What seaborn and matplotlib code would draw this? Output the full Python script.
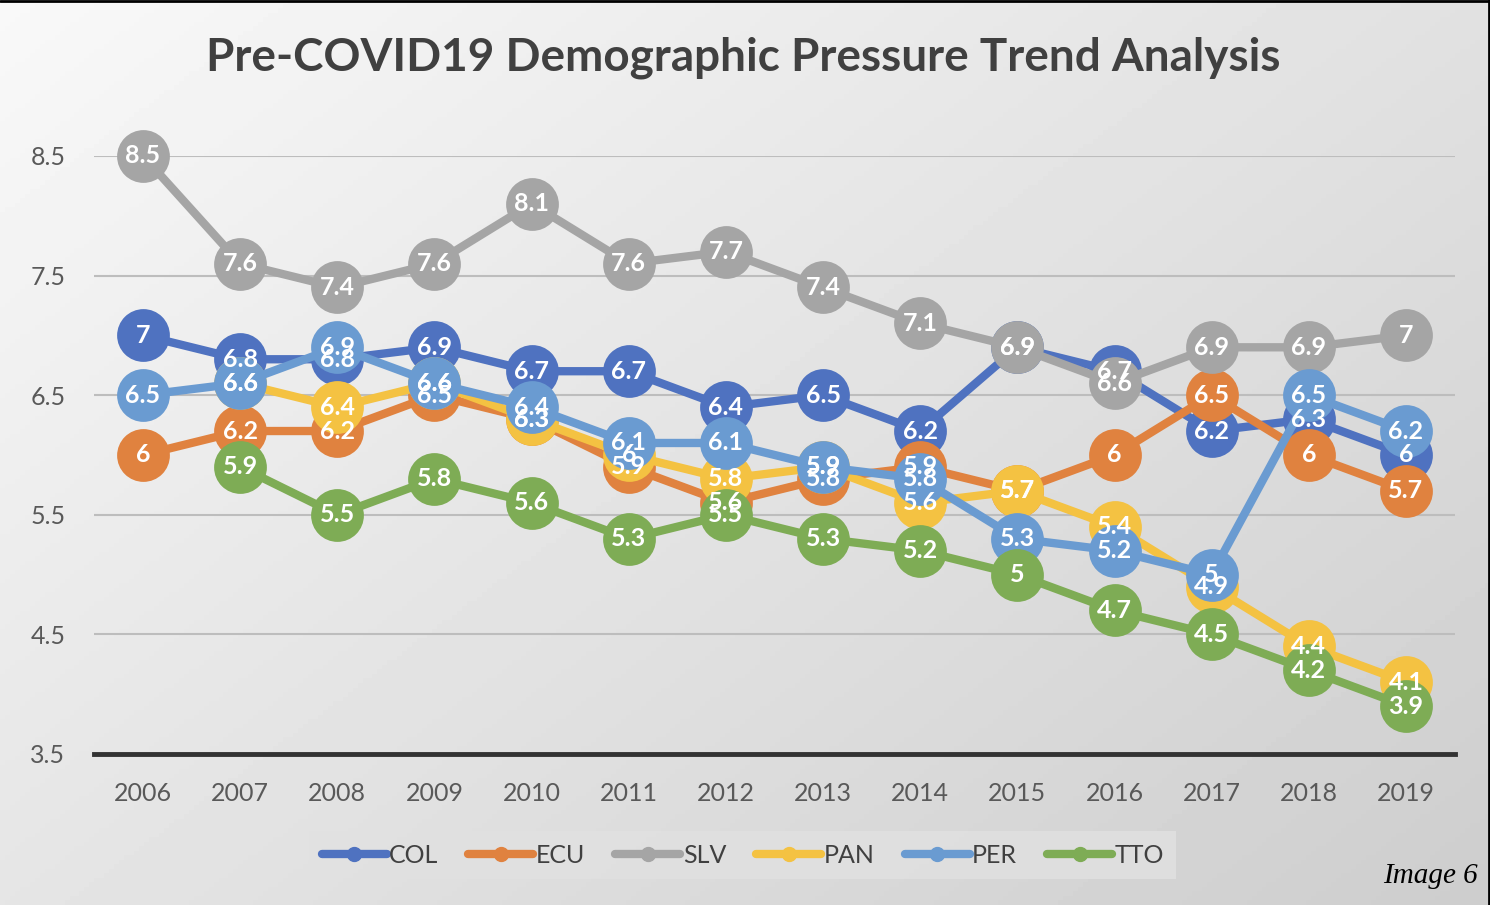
import numpy as np
import pandas as pd
import matplotlib
matplotlib.use('Agg')
import matplotlib.pyplot as plt
import seaborn as sns
from matplotlib.lines import Line2D

years = list(range(2006, 2020))
COL = [7.0, 6.8, 6.8, 6.9, 6.7, 6.7, 6.4, 6.5, 6.2, 6.9, 6.7, 6.2, 6.3, 6.0]
ECU = [6.0, 6.2, 6.2, 6.5, 6.3, 5.9, 5.6, 5.8, 5.9, 5.7, 6.0, 6.5, 6.0, 5.7]
SLV = [8.5, 7.6, 7.4, 7.6, 8.1, 7.6, 7.7, 7.4, 7.1, 6.9, 6.6, 6.9, 6.9, 7.0]
PAN = [np.nan, 6.6, 6.4, 6.6, 6.3, 6.0, 5.8, 5.9, 5.6, 5.7, 5.4, 4.9, 4.4, 4.1]
PER = [6.5, 6.6, 6.9, 6.6, 6.4, 6.1, 6.1, 5.9, 5.8, 5.3, 5.2, 5.0, 6.5, 6.2]
TTO = [np.nan, 5.9, 5.5, 5.8, 5.6, 5.3, 5.5, 5.3, 5.2, 5.0, 4.7, 4.5, 4.2, 3.9]

series_names = ['COL', 'ECU', 'SLV', 'PAN', 'PER', 'TTO']
series_values = [COL, ECU, SLV, PAN, PER, TTO]
colors = ['#4F72C0', '#E0823F', '#A5A5A5', '#F4C242', '#6A9BD1', '#7EAC55']
yticks = [3.5, 4.5, 5.5, 6.5, 7.5, 8.5]
title = 'Pre-COVID19 Demographic Pressure Trend Analysis'

rows = []
for n, vals in zip(series_names, series_values):
    for y, v in zip(years, vals):
        rows.append({'year': y, 'value': v, 'country': n})
df = pd.DataFrame(rows).dropna()

sns.set_theme(style='white')
plt.rcParams['font.family'] = ['Lato', 'DejaVu Sans']

fig = plt.figure(figsize=(14.9, 9.05), dpi=100)

# background gradient
bg = fig.add_axes([0, 0, 1, 1], zorder=-10)
gx, gy = np.meshgrid(np.linspace(0, 1, 300), np.linspace(0, 1, 200))
t = 0.55 * gx + 0.45 * gy
grad = 0.975 - 0.17 * t
bg.imshow(grad, cmap='gray', vmin=0, vmax=1, aspect='auto', extent=[0, 1, 0, 1], origin='upper')
bg.set_axis_off()

ax = fig.add_axes([0.0634, 0.1669, 0.9128, 0.6608])
ax.patch.set_alpha(0)

sns.lineplot(data=df, x='year', y='value', hue='country', hue_order=series_names,
             palette=colors, marker='o', markersize=38, linewidth=6,
             markeredgewidth=0, legend=False, ax=ax, clip_on=False, sort=True)

for n, vals in zip(series_names, series_values):
    for y, v in zip(years, vals):
        if np.isnan(v):
            continue
        ax.text(y, v, f"{v:g}", ha='center', va='center', color='white',
                fontsize=18, fontweight='bold', zorder=20, clip_on=False)

ax.set_xlim(2005.5, 2019.5)
ax.set_ylim(3.5, 8.5)
ax.set_xticks(years)
ax.set_xticklabels([str(y) for y in years])
ax.set_yticks(yticks)
ax.set_yticklabels([f"{v:g}" for v in yticks])
ax.set_xlabel('')
ax.set_ylabel('')
ax.tick_params(axis='both', length=0, labelsize=18, colors='#595959')
ax.tick_params(axis='y', pad=21)
ax.tick_params(axis='x', pad=20)
ax.set_axisbelow(True)
ax.yaxis.grid(True, color='#bdbdbd', linewidth=1.5)
ax.get_ygridlines()[0].set_visible(False)
for s in ['top', 'right', 'left']:
    ax.spines[s].set_visible(False)
ax.spines['bottom'].set_color('#333333')
ax.spines['bottom'].set_linewidth(3.5)
ax.spines['bottom'].set_zorder(3)

fig.text(0.499, 0.936, title, ha='center', va='center', fontsize=33,
         fontweight='bold', color='#404040')

handles = [Line2D([0], [0], color=c, lw=6, marker='o', markersize=10) for c in colors]
leg = fig.legend(handles, series_names, loc='center', bbox_to_anchor=(0.4985, 0.0547),
                 ncol=6, frameon=True, fontsize=18, handlelength=2.6, handletextpad=0.1,
                 columnspacing=1.2, borderpad=0.5, borderaxespad=0, fancybox=False)
leg.get_frame().set_facecolor('#e1e1e1')
leg.get_frame().set_edgecolor('none')
for txt in leg.get_texts():
    txt.set_color('#404040')

fig.text(0.992, 0.032, 'Image 6', ha='right', va='center', fontsize=21,
         family=['Liberation Serif', 'DejaVu Serif'], style='italic', color='black')

fig.add_artist(Line2D([0, 1], [0.999, 0.999], transform=fig.transFigure, color='black', lw=2))
fig.add_artist(Line2D([0.999, 0.999], [0, 1], transform=fig.transFigure, color='black', lw=2))

fig.savefig('out.png', dpi=100)
